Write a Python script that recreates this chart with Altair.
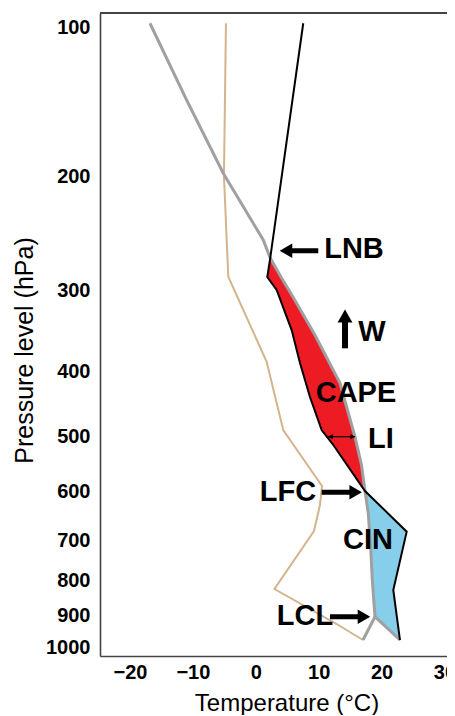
import altair as alt
import pandas as pd

# ---------------- data ----------------
# Environment temperature profile (black line)
ENV_T = [7.55, 2.3, 1.83, 3.32, 5.71, 7.03, 8.62, 10.48, 12.33, 17.37, 24.0, 21.87, 22.93]
ENV_P = [97.5, 271.8, 288.5, 300.0, 349.0, 389.4, 438.9, 489.7, 515.1, 598.7, 682.8, 827.1, 976.6]

# Lifted parcel path (grey line)
PARCEL_T = [-16.83, -10.99, -5.17, 1.19, 2.3, 4.01, 5.92, 9.41, 13.39, 15.78, 16.81,
            17.37, 17.89, 18.27, 18.53, 18.96, 22.93]
PARCEL_P = [97.5, 148.8, 197.7, 255.9, 271.8, 288.5, 308.6, 355.1, 417.4, 500.5, 551.5,
            598.7, 644.7, 716.5, 798.8, 903.8, 976.6]

# Mixing-ratio line surface dew point -> LCL (grey)
MIX_T = [17.05, 18.96]
MIX_P = [976.6, 903.8]

# Dew point profile (tan line)
DEW_T = [-4.74, -5.06, -4.37, 1.73, 4.37, 10.53, 10.21, 9.26, 2.97, 12.87, 17.05]
DEW_P = [97.5, 199.5, 288.3, 387.8, 489.7, 589.6, 627.5, 681.4, 824.3, 926.6, 976.6]

X_TICKS = [-20, -10, 0, 10, 20, 30]
Y_TICKS = [100, 200, 300, 400, 500, 600, 700, 800, 900, 1000]

# Annotation texts
LABELS = ["LNB", "W", "CAPE", "LI", "LFC", "CIN", "LCL"]
LABEL_T = [15.62, 18.48, 15.94, 19.91, 5.12, 17.84, 7.82]
LABEL_P = [263.8, 351.4, 432.8, 504.2, 600.6, 700.0, 903.1]

# Thick horizontal arrows (LNB, LFC, LCL)
HARROW_TAIL_T = [9.94, 10.48, 11.8]
HARROW_HEAD_T = [4.80, 15.89, 17.21]
HARROW_P = [265.3, 601.2, 903.8]
HARROW_DIR = ["triangle-left", "triangle-right", "triangle-right"]

# Vertical W arrow
W_T = [14.19]
W_P_TAIL = [371.4]
W_P_HEAD = [331.8]

# LI double arrow
LI_P = [500.0]
LI_T0 = [11.53]
LI_T1 = [15.78]

# indices of special points
PAR_LNB, PAR_LFC, PAR_LCL = 4, 11, 15
ENV_LNB, ENV_LFC = 1, 9


def frame(ts, ps):
    return pd.DataFrame({"T": ts, "p": ps, "i": list(range(len(ts)))})


env_df = frame(ENV_T, ENV_P)
par_df = frame(PARCEL_T, PARCEL_P)
mix_df = frame(MIX_T, MIX_P)
dew_df = frame(DEW_T, DEW_P)

cape_T = PARCEL_T[PAR_LNB:PAR_LFC + 1] + ENV_T[ENV_LNB:ENV_LFC][::-1]
cape_P = PARCEL_P[PAR_LNB:PAR_LFC + 1] + ENV_P[ENV_LNB:ENV_LFC][::-1]
cape_df = frame(cape_T, cape_P)

cin_T = ENV_T[ENV_LFC:] + PARCEL_T[PAR_LCL:PAR_LFC:-1]
cin_P = ENV_P[ENV_LFC:] + PARCEL_P[PAR_LCL:PAR_LFC:-1]
cin_df = frame(cin_T, cin_P)

lab_df = pd.DataFrame({"label": LABELS, "T": LABEL_T, "p": LABEL_P})
harrow_df = pd.DataFrame({"T": HARROW_TAIL_T, "T1": HARROW_HEAD_T, "p": HARROW_P})
head_df = pd.DataFrame({"T": HARROW_HEAD_T, "p": HARROW_P, "shape": HARROW_DIR})
w_df = pd.DataFrame({"T": W_T, "p": W_P_TAIL, "p1": W_P_HEAD})
w_head_df = pd.DataFrame({"T": W_T, "p": W_P_HEAD, "shape": ["triangle-up"]})
li_df = pd.DataFrame({"T": LI_T0, "T1": LI_T1, "p": LI_P})
li_heads = pd.DataFrame({"T": [LI_T0[0] + 0.35, LI_T1[0] - 0.35], "p": LI_P * 2,
                         "shape": ["triangle-left", "triangle-right"]})

# ---------------- scales ----------------
PW, PH = 347, 643
xscale = alt.Scale(domain=[-24.77, 30.41], nice=False, zero=False)
yscale = alt.Scale(
    type="linear",
    domain=[90.65, 100, 200, 300, 400, 500, 600, 700, 800, 900, 1000, 1026.6],
    range=[0, 14, 163.7, 277, 358.7, 423.7, 478.7, 527, 567.5, 602.5, 634.5, 643],
    nice=False, zero=False,
)

FONT = "Liberation Sans"
xaxis = alt.Axis(values=X_TICKS, format="d", title="Temperature (°C)", grid=False,
                 ticks=False, tickSize=0, labelFont=FONT, labelFontSize=20,
                 labelFontWeight="bold", labelColor="black", labelPadding=6,
                 labelFlush=False, domainColor="#444444", domainWidth=1.6,
                 titleFont=FONT, titleFontSize=24, titleFontWeight="normal",
                 titleColor="black", titleX=186.5, titleY=54,
                 titleBaseline="alphabetic", titleAlign="center")
yaxis = alt.Axis(values=Y_TICKS, format="d", title="Pressure level (hPa)", grid=False,
                 ticks=False, tickSize=0, labelFont=FONT, labelFontSize=20,
                 labelFontWeight="bold", labelColor="black", labelPadding=10,
                 labelBaseline="middle", labelFlush=False, domainColor="#444444",
                 domainWidth=1.6, titleFont=FONT, titleFontSize=25,
                 titleFontWeight="normal", titleColor="black", titleAngle=270,
                 titleX=-68, titleY=337, titleBaseline="alphabetic",
                 titleAlign="center")

X = alt.X("T:Q", scale=xscale, axis=xaxis)
Y = alt.Y("p:Q", scale=yscale, axis=yaxis)
O = alt.Order("i:Q")

cape = alt.Chart(cape_df).mark_line(fill="#ed1c24", strokeWidth=0, fillOpacity=1).encode(
    x=X, y=Y, order=O)
cin = alt.Chart(cin_df).mark_line(fill="#87ceeb", strokeWidth=0, fillOpacity=1).encode(
    x=X, y=Y, order=O)

dew = alt.Chart(dew_df).mark_line(color="#d4b48c", strokeWidth=2).encode(x=X, y=Y, order=O)
par = alt.Chart(par_df).mark_line(color="#a0a0a0", strokeWidth=3).encode(x=X, y=Y, order=O)
mix = alt.Chart(mix_df).mark_line(color="#a0a0a0", strokeWidth=3).encode(x=X, y=Y, order=O)
env = alt.Chart(env_df).mark_line(color="black", strokeWidth=2).encode(x=X, y=Y, order=O)

shafts = alt.Chart(harrow_df).mark_rule(color="black", strokeWidth=5).encode(
    x=X, x2="T1:Q", y=Y)
heads = alt.Chart(head_df).mark_point(filled=True, color="black", size=210, opacity=1,
                                      strokeWidth=0).encode(
    x=X, y=Y, shape=alt.Shape("shape:N", scale=None))

w_shaft = alt.Chart(w_df).mark_rule(color="black", strokeWidth=6).encode(
    x=X, y=Y, y2="p1:Q")
w_head = alt.Chart(w_head_df).mark_point(filled=True, color="black", size=220, opacity=1,
                                         strokeWidth=0).encode(
    x=X, y=Y, shape=alt.Shape("shape:N", scale=None))

li_shaft = alt.Chart(li_df).mark_rule(color="black", strokeWidth=1.2).encode(
    x=X, x2="T1:Q", y=Y)
li_head = alt.Chart(li_heads).mark_point(filled=True, color="black", size=28, opacity=1,
                                         strokeWidth=0).encode(
    x=X, y=Y, shape=alt.Shape("shape:N", scale=None))

texts = alt.Chart(lab_df).mark_text(font=FONT, fontSize=29, fontWeight="bold",
                                    color="black", align="center",
                                    baseline="middle").encode(x=X, y=Y, text="label:N")

top_border = alt.Chart(lab_df).mark_rule(color="#444444", strokeWidth=1.6).encode(
    x=alt.value(0), x2=alt.value(PW), y=alt.value(0))

chart = alt.layer(
    cape, cin, dew, mix, par, env, shafts, heads, w_shaft, w_head, li_shaft, li_head,
    texts, top_border
).properties(
    width=PW, height=PH,
    autosize=alt.AutoSizeParams(type="none"),
    padding={"left": 92, "top": 5, "right": 0, "bottom": 59},
).configure_view(stroke=None)

chart.save("out.html", embed_options={"renderer": "svg", "actions": False})
